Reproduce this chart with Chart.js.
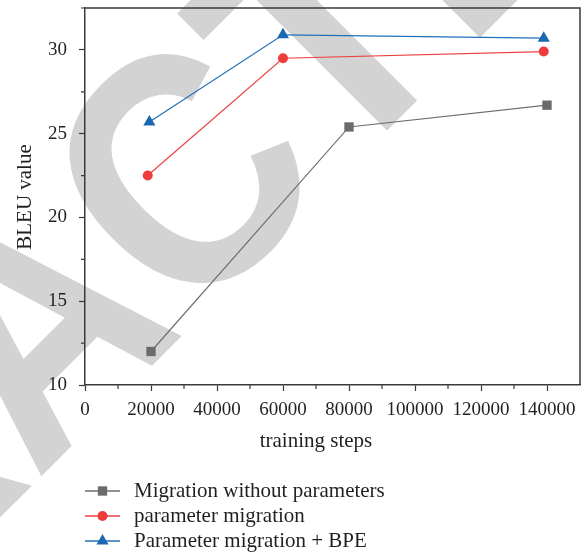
<!DOCTYPE html>
<html>
<head>
<meta charset="utf-8">
<script src="https://cdn.jsdelivr.net/npm/chart.js@4/dist/chart.umd.min.js"></script>
<style>
html,body{margin:0;padding:0;background:#fff;}
canvas{display:block;}
</style>
</head>
<body>
<canvas id="c" width="587" height="556"></canvas>
<script>
// ---- data ----
const seriesNames = ["Migration without parameters", "parameter migration", "Parameter migration + BPE"];
const stepsGrey = [20000, 80000, 140000];
const bleuGrey = [12.0, 25.4, 26.7];
const stepsRed = [19000, 60000, 139000];
const bleuRed = [22.5, 29.5, 29.9];
const stepsBlue = [19500, 60000, 139000];
const bleuBlue = [25.7, 30.9, 30.7];
const xTickLabels = [0, 20000, 40000, 60000, 80000, 100000, 120000, 140000];
const yTickLabels = [10, 15, 20, 25, 30];
const xTitle = "training steps";
const yTitle = "BLEU value";
const watermark = "RETRACTED";

const FONT = "'Liberation Serif', 'DejaVu Serif', serif";
const AXIS = "#3a3a3a";
const TEXT = "#231f20";

function pts(xs, ys){ return xs.map((x,i)=>({x:x, y:ys[i]})); }

const bgPlugin = {
  id: 'bg',
  beforeDraw(chart){
    const ctx = chart.ctx;
    ctx.save();
    ctx.fillStyle = '#fff';
    ctx.fillRect(0,0,chart.width,chart.height);
    // watermark
    const S = 336, sx = 0.88;
    ctx.fillStyle = 'rgb(211,211,211)';
    ctx.font = "bold " + S + "px 'Liberation Sans', Arial, sans-serif";
    ctx.textBaseline = 'alphabetic';
    ctx.textAlign = 'left';
    ctx.rotate(-45*Math.PI/180);
    ctx.scale(sx, 1);
    const pre = ctx.measureText('RETRA').width;
    const ablC = ctx.measureText('C').actualBoundingBoxLeft;
    const textX = -92/sx + ablC - pre;
    ctx.fillText(watermark, textX, 366);
    ctx.restore();
  }
};

const framePlugin = {
  id: 'frame',
  afterDraw(chart){
    const ctx = chart.ctx;
    const a = chart.chartArea;
    const xs = chart.scales.x, ys = chart.scales.y;
    ctx.save();
    ctx.strokeStyle = AXIS;
    ctx.lineWidth = 1.5;
    ctx.beginPath();
    ctx.moveTo(a.left, a.top); ctx.lineTo(a.right, a.top); ctx.lineTo(a.right, a.bottom);
    ctx.stroke();
    // minor ticks
    ctx.lineWidth = 1.2;
    ctx.beginPath();
    for (let v = 10000; v <= 130000; v += 20000){
      const px = xs.getPixelForValue(v);
      ctx.moveTo(px, a.bottom); ctx.lineTo(px, a.bottom + 4);
    }
    for (let v = 12.5; v <= 32.5; v += 5){
      const py = ys.getPixelForValue(v);
      ctx.moveTo(a.left, py); ctx.lineTo(a.left - 4, py);
    }
    ctx.stroke();
    // axis titles
    ctx.fillStyle = TEXT;
    ctx.font = "21px " + FONT;
    ctx.textAlign = 'center';
    ctx.textBaseline = 'middle';
    const cx = (xs.getPixelForValue(0) + xs.getPixelForValue(140000))/2;
    ctx.fillText(xTitle, cx, 441);
    ctx.save();
    ctx.translate(25, 197);
    ctx.rotate(-Math.PI/2);
    ctx.fillText(yTitle, 0, 0);
    ctx.restore();
    // legend
    const rows = [491, 516, 541];
    chart.data.datasets.forEach((ds, i) => {
      const y = rows[i];
      ctx.strokeStyle = ds.borderColor;
      ctx.lineWidth = 1.3;
      ctx.beginPath(); ctx.moveTo(85, y); ctx.lineTo(120, y); ctx.stroke();
      ctx.fillStyle = ds.pointBackgroundColor;
      Chart.helpers.drawPoint(ctx, {pointStyle: ds.pointStyle, radius: ds.pointRadius, rotation: 0, borderWidth: 0}, 102.5, y);
      ctx.fillStyle = TEXT;
      ctx.textAlign = 'left';
      ctx.fillText(ds.label, 134, y);
    });
    ctx.restore();
  }
};

new Chart(document.getElementById('c'), {
  type: 'line',
  data: {
    datasets: [
      { label: seriesNames[0], data: pts(stepsGrey, bleuGrey), borderColor: '#6e6e6e', backgroundColor: '#6e6e6e',
        pointBackgroundColor: '#6b6b6b', pointBorderColor: '#6b6b6b', pointStyle: 'rect', pointRadius: 6.6, borderWidth: 1.2, pointBorderWidth: 0 },
      { label: seriesNames[1], data: pts(stepsRed, bleuRed), borderColor: '#ef4040', backgroundColor: '#ef4040',
        pointBackgroundColor: '#ee3c3c', pointBorderColor: '#ee3c3c', pointStyle: 'circle', pointRadius: 5, borderWidth: 1.2, pointBorderWidth: 0 },
      { label: seriesNames[2], data: pts(stepsBlue, bleuBlue), borderColor: '#2170b8', backgroundColor: '#2170b8',
        pointBackgroundColor: '#1c68b0', pointBorderColor: '#1c68b0', pointStyle: 'triangle', pointRadius: 7, borderWidth: 1.2, pointBorderWidth: 0 }
    ]
  },
  options: {
    responsive: false,
    animation: false,
    layout: { padding: { left: 0, right: 4, top: 8, bottom: 111 } },
    plugins: { legend: { display: false }, tooltip: { enabled: false } },
    scales: {
      x: {
        type: 'linear', min: 0, max: 150000,
        afterBuildTicks(scale){ scale.ticks = xTickLabels.map(v => ({value: v})); },
        afterFit(scale){ scale.height = 60; scale.paddingLeft = 0; scale.paddingRight = 0; },
        grid: { drawOnChartArea: false, tickLength: 6, tickColor: AXIS, tickWidth: 1.2 },
        border: { color: AXIS, width: 1.5 },
        ticks: { color: TEXT, font: { family: FONT, size: 19 }, padding: 8, maxRotation: 0, autoSkip: false,
          callback: v => String(v) }
      },
      y: {
        min: 10, max: 32.5,
        afterBuildTicks(scale){ scale.ticks = yTickLabels.map(v => ({value: v})); },
        afterFit(scale){ scale.width = 85; scale.paddingTop = 0; scale.paddingBottom = 0; },
        grid: { drawOnChartArea: false, tickLength: 6, tickColor: AXIS, tickWidth: 1.2 },
        border: { color: AXIS, width: 1.5 },
        ticks: { color: TEXT, font: { family: FONT, size: 19 }, padding: 12, autoSkip: false,
          callback: v => String(v) }
      }
    }
  },
  plugins: [bgPlugin, framePlugin]
});
</script>
</body>
</html>
